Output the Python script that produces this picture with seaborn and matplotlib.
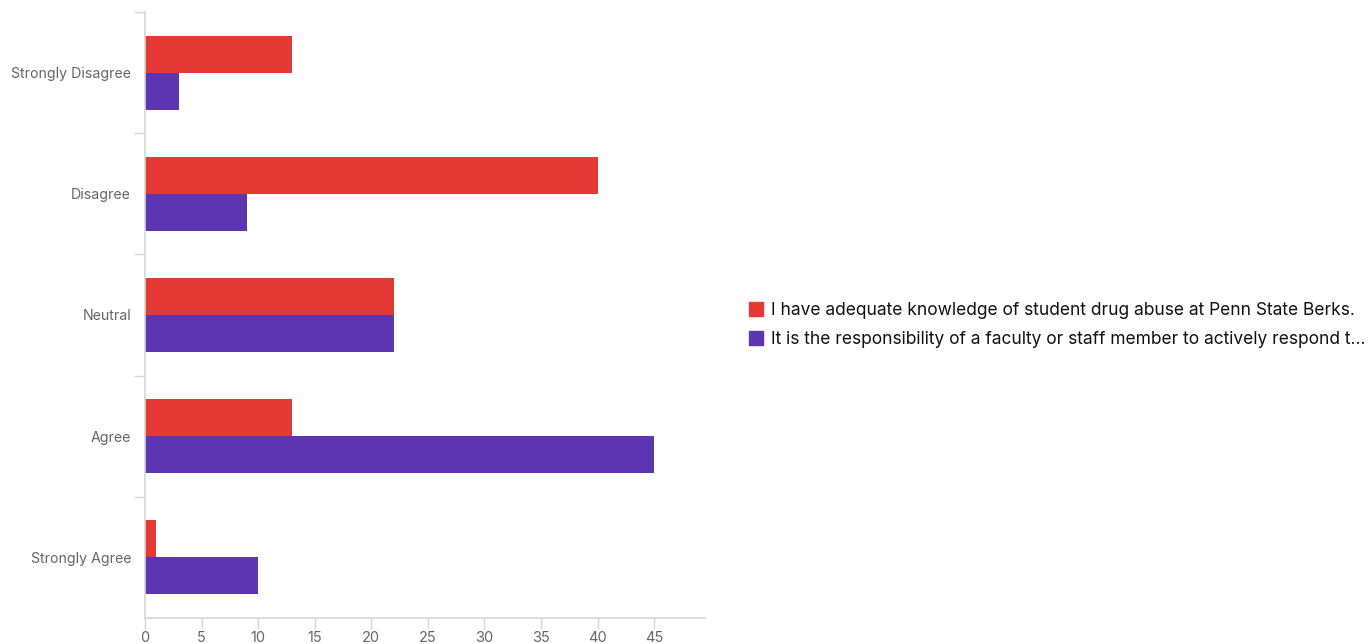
import matplotlib
matplotlib.use("Agg")
import matplotlib.pyplot as plt
from matplotlib.ticker import FixedLocator
import seaborn as sns
import pandas as pd

categories = ["Strongly Disagree", "Disagree", "Neutral", "Agree", "Strongly Agree"]
series_names = [
    "I have adequate knowledge of student drug abuse at Penn State Berks.",
    "It is the responsibility of a faculty or staff member to actively respond t\u2026",
]
knowledge_counts = [13, 40, 22, 13, 1]
responsibility_counts = [3, 9, 22, 45, 10]
x_ticks = [0, 5, 10, 15, 20, 25, 30, 35, 40, 45]
colors = ["#E53935", "#5E35B1"]

df = pd.DataFrame({
    "category": categories * 2,
    "count": knowledge_counts + responsibility_counts,
    "series": [series_names[0]] * len(categories) + [series_names[1]] * len(categories),
})

sns.set_theme(style="white")
plt.rcParams["font.family"] = ["Inter", "DejaVu Sans"]

fig = plt.figure(figsize=(13.71, 6.44), dpi=100)
ax = fig.add_axes([145 / 1371, 26 / 644, 560 / 1371, 606 / 644])

sns.barplot(
    data=df, x="count", y="category", hue="series", order=categories,
    hue_order=series_names, palette=colors, orient="h", width=0.61,
    saturation=1, linewidth=0, ax=ax, legend=False,
)

ax.set_xlim(0, 49.5)
ax.set_ylim(len(categories) - 0.5, -0.5)
ax.set_xlabel("")
ax.set_ylabel("")

grey = "#d6d6d6"
for side in ["top", "right"]:
    ax.spines[side].set_visible(False)
for side in ["left", "bottom"]:
    ax.spines[side].set_color(grey)
    ax.spines[side].set_linewidth(1.2)

ax.set_xticks(x_ticks)
ax.tick_params(axis="x", bottom=True, length=8, width=1, color=grey,
               labelsize=10.5, labelcolor="#666666", pad=1)

ax.set_yticks(range(len(categories)))
ax.set_yticklabels(categories)
ax.yaxis.set_minor_locator(FixedLocator([i - 0.5 for i in range(len(categories))]))
ax.tick_params(axis="y", which="major", left=False, length=0, labelsize=10.2,
               labelcolor="#666666", pad=10)
ax.tick_params(axis="y", which="minor", left=True, length=8, width=1, color=grey)

handles = [plt.Rectangle((0, 0), 1, 1, color=c) for c in colors]
fig.legend(handles, series_names, loc="center left",
           bbox_to_anchor=(733 / 1371, 319 / 644), frameon=False,
           fontsize=12.5, handlelength=0.8, handleheight=0.8,
           handletextpad=0.5, labelspacing=0.68, labelcolor="#111111")

fig.savefig("out.png", dpi=100)
